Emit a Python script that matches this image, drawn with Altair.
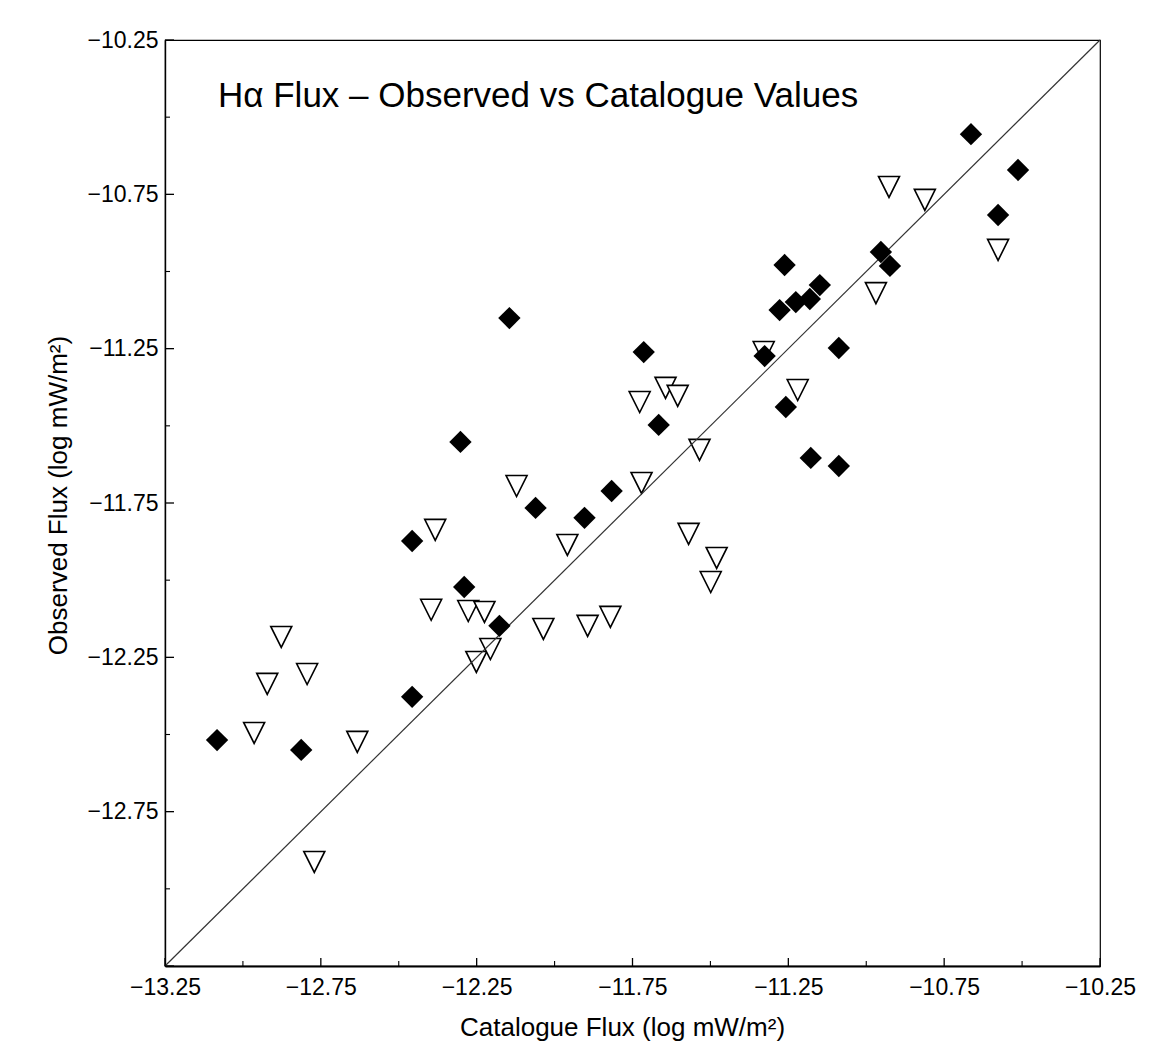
import altair as alt
import pandas as pd

# ---- data ----
filled_cat = [-13.083, -12.813, -12.457, -12.457, -12.302, -12.290, -12.177, -12.145,
              -12.061, -11.904, -11.817, -11.714, -11.666, -11.326, -11.278, -11.262,
              -11.258, -11.226, -11.181, -11.178, -11.149, -11.088, -11.088, -10.953,
              -10.924, -10.664, -10.577, -10.513]
filled_obs = [-12.518, -12.550, -12.378, -11.873, -11.552, -12.022, -12.148, -11.151,
              -11.766, -11.798, -11.711, -11.261, -11.497, -11.274, -11.125, -10.979,
              -11.439, -11.099, -11.089, -11.604, -11.044, -11.248, -11.630, -10.937,
              -10.982, -10.555, -10.817, -10.671]

open_cat = [-12.964, -12.922, -12.877, -12.794, -12.771, -12.633, -12.396, -12.383,
            -12.277, -12.251, -12.225, -12.206, -12.122, -12.036, -11.959, -11.894,
            -11.821, -11.727, -11.721, -11.644, -11.605, -11.570, -11.535, -11.499,
            -11.480, -11.329, -11.220, -10.969, -10.927, -10.812, -10.577]
open_obs = [-12.495, -12.336, -12.184, -12.304, -12.913, -12.524, -12.096, -11.837,
            -12.100, -12.265, -12.103, -12.223, -11.695, -12.158, -11.886, -12.148,
            -12.119, -11.423, -11.685, -11.377, -11.403, -11.850, -11.578, -12.006,
            -11.928, -11.261, -11.384, -11.070, -10.726, -10.768, -10.930]

diag = [-13.25, -10.25]
major_ticks = [-13.25, -12.75, -12.25, -11.75, -11.25, -10.75, -10.25]
minor_ticks = [-13.0, -12.5, -12.0, -11.5, -11.0, -10.5]
y_label_values = [-10.25, -10.75, -11.25, -11.75, -12.25, -12.75]
title_text = ["H\u03b1 Flux \u2013 Observed vs Catalogue Values"]

W, H = 935, 926
FONT = "Liberation Sans"

xs = alt.Scale(domain=[-13.25, -10.25], nice=False, zero=False)
ys = alt.Scale(domain=[-13.25, -10.25], nice=False, zero=False)

x_axis = alt.Axis(
    values=major_ticks, format=".2f", ticks=False, tickSize=0, grid=False,
    domain=True, domainColor="black", domainWidth=1.8,
    labelFont=FONT, labelFontSize=23, labelColor="black", labelPadding=10,
    labelFlush=False, labelOverlap=False,
    title="Catalogue Flux (log mW/m\u00b2)", titleFont=FONT, titleFontSize=26,
    titleFontWeight="normal", titleColor="black",
    titleX=457, titleY=69, titleBaseline="alphabetic", titleAlign="center",
)
y_axis = alt.Axis(
    values=y_label_values, format=".2f", ticks=False, tickSize=0, grid=False,
    domain=True, domainColor="black", domainWidth=1.4,
    labelFont=FONT, labelFontSize=23, labelColor="black", labelPadding=7,
    labelFlush=False, labelOverlap=False,
    title="Observed Flux (log mW/m\u00b2)", titleFont=FONT, titleFontSize=26,
    titleFontWeight="normal", titleColor="black", titleAngle=270,
    titleX=-99, titleY=455, titleBaseline="alphabetic", titleAlign="center",
)

open_df = pd.DataFrame({"cat": open_cat, "obs": open_obs})
filled_df = pd.DataFrame({"cat": filled_cat, "obs": filled_obs})
diag_df = pd.DataFrame({"cat": diag, "obs": diag})

tri_path = "M-1,-1L1,-1L0,1Z"


def X(field):
    return alt.X(field, scale=xs, axis=x_axis)


def Y(field):
    return alt.Y(field, scale=ys, axis=y_axis)


triangles = alt.Chart(open_df).mark_point(
    shape=tri_path, filled=True, fill="white", stroke="black",
    strokeWidth=1.6, size=441, opacity=1
).encode(x=X("cat:Q"), y=Y("obs:Q"))

line = alt.Chart(diag_df).mark_line(color="#333333", strokeWidth=1.2).encode(
    x=X("cat:Q"), y=Y("obs:Q")
)

diamonds = alt.Chart(filled_df).mark_point(
    shape="diamond", filled=True, color="black", size=500, opacity=1
).encode(x=X("cat:Q"), y=Y("obs:Q"))

x_major = alt.Chart(pd.DataFrame({"v": major_ticks})).mark_rule(
    color="black", strokeWidth=1.3
).encode(x=X("v:Q"), y=alt.value(H), y2=alt.value(H - 8))
x_minor = alt.Chart(pd.DataFrame({"v": minor_ticks})).mark_rule(
    color="black", strokeWidth=1.1
).encode(x=X("v:Q"), y=alt.value(H), y2=alt.value(H - 5))
y_major = alt.Chart(pd.DataFrame({"v": major_ticks})).mark_rule(
    color="black", strokeWidth=1.3
).encode(y=Y("v:Q"), x=alt.value(0), x2=alt.value(9))
y_minor = alt.Chart(pd.DataFrame({"v": minor_ticks})).mark_rule(
    color="black", strokeWidth=1.1
).encode(y=Y("v:Q"), x=alt.value(0), x2=alt.value(5))

title = alt.Chart(pd.DataFrame({"t": title_text})).mark_text(
    align="left", baseline="alphabetic", font=FONT, fontSize=35, color="black"
).encode(x=alt.value(53), y=alt.value(67), text="t:N")

chart = alt.layer(
    triangles, line, diamonds, x_major, x_minor, y_major, y_minor, title
).properties(
    width=W, height=H,
    autosize=alt.AutoSizeParams(type="none"),
    padding={"left": 157, "top": 32, "right": 40, "bottom": 78},
).configure_view(stroke="black", strokeWidth=1.2)

chart.save("out.html", embed_options={"renderer": "svg", "actions": False})
